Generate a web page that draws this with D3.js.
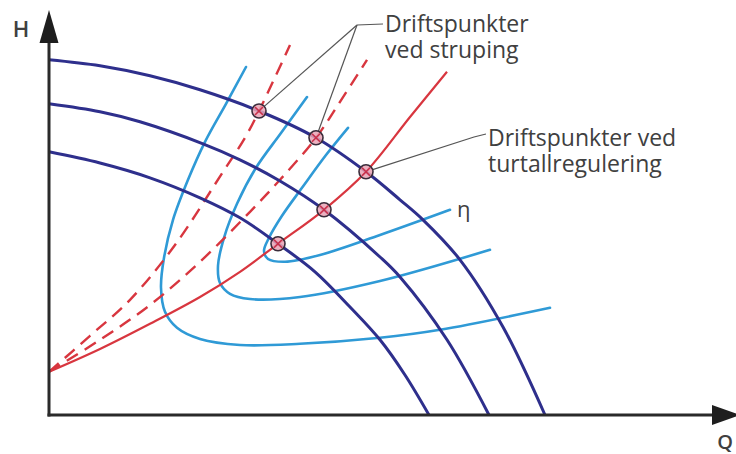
<!DOCTYPE html>
<html>
<head>
<meta charset="utf-8">
<script src="https://cdn.jsdelivr.net/npm/d3@7"></script>
<style>
  html, body { margin: 0; padding: 0; background: #fff; }
  svg { display: block; }
  text { font-family: "Open Sans", "DejaVu Sans", sans-serif; fill: #404040; }
</style>
</head>
<body>
<svg id="chart" width="736" height="454"></svg>
<script>
// Pump curves H(Q) at three speeds: [Q, H]
const pumpFull = [[0,88.8],[10.2,87.3],[20.2,84.8],[30.2,81.3],[42,76],[53.4,69.3],[63.4,60.8],[70.2,53.8],[74.8,48.8],[82.2,38.8],[90.8,22],[99.2,0]];
const pumpMid  = [[0,77.8],[10.2,75.8],[18.2,73.3],[30.8,67.8],[38.2,63.8],[46.2,58.5],[55,51.3],[66.2,39.5],[70.2,34.5],[79.6,18.8],[88,0]];
const pumpLow  = [[0,65.8],[10.2,63],[20.2,59.3],[30.2,54.3],[38.2,49.3],[45.8,42.8],[53.2,35.8],[60.2,27],[66.2,18.8],[71.2,10],[76,0]];

// System curves: speed control (solid) and throttled (dashed)
const systemCurve = [[0,10.8],[10.2,16.5],[20.2,22.8],[30.2,29.5],[38.2,35.8],[45.8,42.8],[55,51.3],[63.4,60.8],[72.2,74.5],[79.6,85.8]];
const throttleHigh = [[0,10.8],[8.2,19.8],[16.2,28.8],[25.2,42.5],[34.8,60.8],[39.2,69.3],[42,76],[48.2,92.5]];
const throttleMid  = [[0,10.8],[10.2,18.8],[20.2,27.5],[30.2,38.3],[40.2,50.8],[46.2,58.8],[53.4,69.3],[58.2,78.3],[63.6,88.8]];

// Efficiency contours (η)
const etaOuter = [[39.4,87],[35.4,77.8],[31.2,68.3],[27.8,58.8],[24.8,48.8],[23,39.3],[22.4,31.8],[23.2,25.8],[25.6,21.8],[30.2,19],[38.2,17.5],[50.2,17.8],[66.2,19.3],[78.2,21.3],[100.2,26.8]];
const etaMid   = [[51.6,79.5],[46.4,70.5],[41.4,61.8],[37.6,52.8],[35,44.3],[33.8,37.3],[34.2,33],[36.2,30.3],[40.2,29],[50.2,29.5],[66.2,33.5],[88.2,41.3]];
const etaInner = [[59.8,71.8],[55.4,65],[50.6,56.8],[46.6,49.8],[44,44.3],[43,41],[43.8,39],[47.2,38.3],[54.2,40],[66.2,45],[80.2,51.3]];

// Operating points
const throttlePoints = [[42,76],[53.4,69.3]];
const speedPoints = [[63.4,60.8],[55,51.3],[45.8,42.8]];

// Text
const axisLabels = { x: "Q", y: "H" };
const throttleLabel = ["Driftspunkter", "ved struping"];
const speedLabel = ["Driftspunkter ved", "turtallregulering"];
const etaLabel = "η";

const svg = d3.select("#chart");
const x = d3.scaleLinear().domain([0, 140]).range([49, 749]);
const y = d3.scaleLinear().domain([0, 100]).range([415, 15]);

const line = d3.line().x(d => x(d[0])).y(d => y(d[1])).curve(d3.curveCatmullRom.alpha(0.5));

const colors = {
  pump: "#2e2f8c",
  eta: "#2f9ad6",
  system: "#d8363f",
  axis: "#2a2a2a",
  leader: "#555"
};

// Efficiency contours
[etaOuter, etaMid, etaInner].forEach(c => {
  svg.append("path").attr("d", line(c))
    .attr("fill", "none").attr("stroke", colors.eta).attr("stroke-width", 2.6)
    .attr("stroke-linecap", "round");
});

// System curves
[throttleHigh, throttleMid].forEach(c => {
  svg.append("path").attr("d", line(c))
    .attr("fill", "none").attr("stroke", colors.system).attr("stroke-width", 2.4)
    .attr("stroke-dasharray", "13,8");
});
svg.append("path").attr("d", line(systemCurve))
  .attr("fill", "none").attr("stroke", colors.system).attr("stroke-width", 2.2);

// Pump curves
[pumpFull, pumpMid, pumpLow].forEach(c => {
  svg.append("path").attr("d", line(c))
    .attr("fill", "none").attr("stroke", colors.pump).attr("stroke-width", 3);
});

// Axes with arrowheads
const x0 = x(0), y0 = y(0);
svg.append("line").attr("x1", x0).attr("y1", y0 + 1.5).attr("x2", x0).attr("y2", 40)
  .attr("stroke", colors.axis).attr("stroke-width", 3);
svg.append("path").attr("d", `M${x0},10 L${x0 - 9.5},43 L${x0 + 9.5},43 Z`).attr("fill", "#1e1e1e");
svg.append("line").attr("x1", x0 - 1.5).attr("y1", y0).attr("x2", 715).attr("y2", y0)
  .attr("stroke", colors.axis).attr("stroke-width", 3);
svg.append("path").attr("d", `M740,${y0} L712,${y0 - 10} L712,${y0 + 10} Z`).attr("fill", "#1e1e1e");

svg.append("text").attr("x", 21).attr("y", 37).attr("text-anchor", "middle")
  .attr("font-size", 22).attr("font-weight", 600).text(axisLabels.y);
svg.append("text").attr("x", 725).attr("y", 449).attr("text-anchor", "middle")
  .attr("font-size", 20).attr("font-weight", 600).text(axisLabels.x);

// Leader lines from labels to operating points
function toward(p, from, r) {
  const px = x(p[0]), py = y(p[1]);
  const dx = from[0] - px, dy = from[1] - py, len = Math.hypot(dx, dy);
  return [px + dx / len * r, py + dy / len * r];
}
const hub = [357, 25];
svg.append("line").attr("x1", hub[0]).attr("y1", hub[1]).attr("x2", 383).attr("y2", 24)
  .attr("stroke", colors.leader).attr("stroke-width", 1.2);
throttlePoints.forEach(p => {
  const e = toward(p, hub, 7);
  svg.append("line").attr("x1", hub[0]).attr("y1", hub[1]).attr("x2", e[0]).attr("y2", e[1])
    .attr("stroke", colors.leader).attr("stroke-width", 1.2);
});
const hub2 = [474, 137];
const e2 = toward(speedPoints[0], hub2, 7);
svg.append("polyline").attr("points", `${e2[0]},${e2[1]} ${hub2[0]},${hub2[1]} 486,134`)
  .attr("fill", "none").attr("stroke", colors.leader).attr("stroke-width", 1.2);

// Operating point markers
throttlePoints.concat(speedPoints).forEach(p => {
  const g = svg.append("g").attr("transform", `translate(${x(p[0])},${y(p[1])})`);
  g.append("circle").attr("r", 7).attr("fill", "#e9a3b5").attr("fill-opacity", 0.85)
    .attr("stroke", "#3a2c3a").attr("stroke-width", 1.6);
  g.append("path").attr("d", "M-4,-4L4,4M-4,4L4,-4").attr("stroke", "#c8304a").attr("stroke-width", 1.6);
});

// Annotation text, one element per line
throttleLabel.forEach((s, i) => svg.append("text")
  .attr("x", 385).attr("y", 32 + i * 26).attr("font-size", 23).text(s));
speedLabel.forEach((s, i) => svg.append("text")
  .attr("x", 488).attr("y", 146 + i * 26).attr("font-size", 23).text(s));

svg.append("text").attr("x", 457).attr("y", 217).attr("font-size", 22).text(etaLabel);
</script>
</body>
</html>
